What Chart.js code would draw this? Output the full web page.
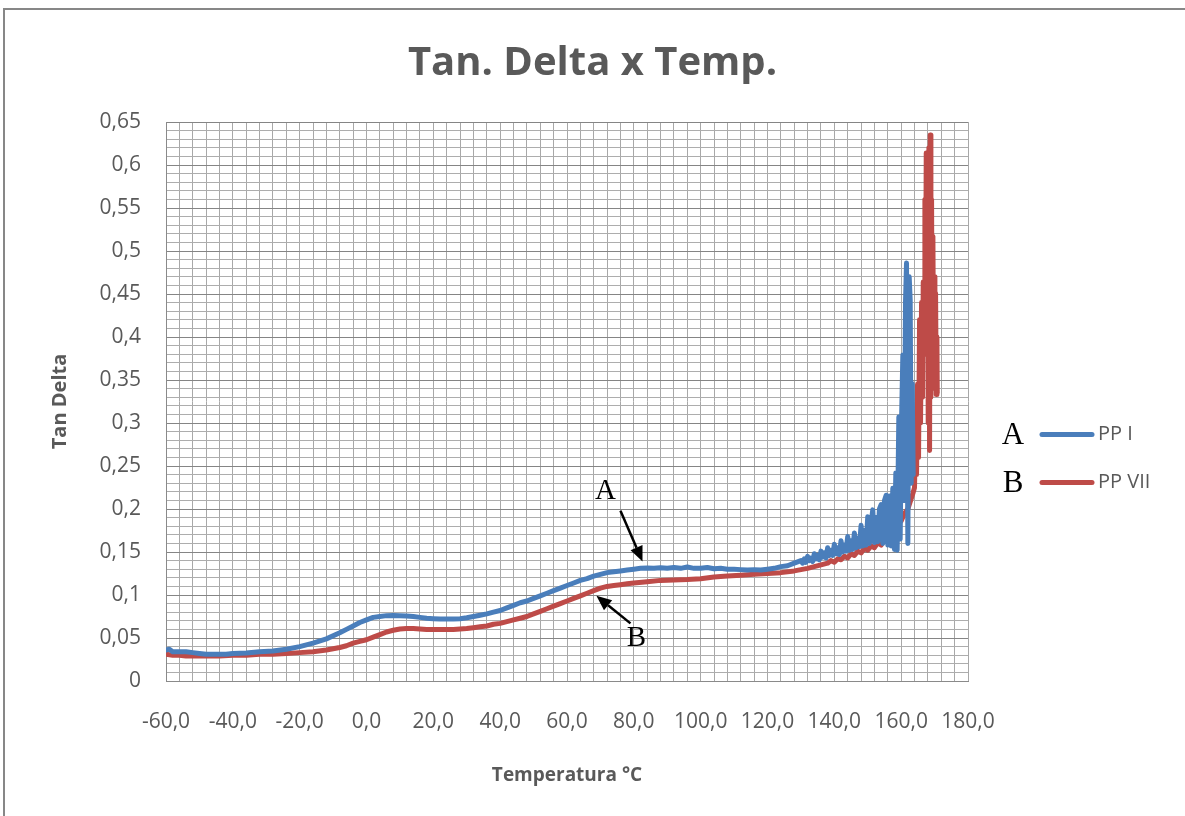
<!DOCTYPE html>
<html>
<head>
<meta charset="utf-8">
<script src="https://cdn.jsdelivr.net/npm/chart.js@4.4.1/dist/chart.umd.min.js"></script>
<style>
  html, body { margin: 0; padding: 0; background: #ffffff; overflow: hidden; }
  #frame { position: absolute; left: 3px; top: 8px; width: 1300px; height: 900px;
           border-left: 2px solid #878787; border-top: 2px solid #878787; }
  #c { position: absolute; left: 0; top: 0; }
</style>
</head>
<body>
<div id="frame"></div>
<canvas id="c" width="1185" height="816"></canvas>
<script>
// ---- Series: PP I (curve A) ----
const tempPPI = [
  -60, -59, -58, -56, -54, -52, -50, -48, -46, -44, -42, -40, -36, -32, -28, -24, -20, -16, -12, -8,
  -6, -4, -2, 0, 2, 4, 6, 8, 10, 12, 14, 16, 18, 20, 22, 24, 26, 28, 30, 32,
  34, 36, 38, 40, 42, 44, 46, 48, 50, 52, 54, 56, 58, 60, 62, 64, 66, 68, 70, 72,
  74, 76, 78, 80, 82, 84, 86, 88, 90, 92, 94, 96, 98, 100, 102, 104, 106, 108, 110, 112,
  114, 116, 118, 120, 122, 124, 126, 128,
  130, 130.5, 131, 131.5, 132, 132.5, 133, 133.5, 134, 134.5, 135, 135.5, 136, 136.5, 137, 137.5,
  138, 138.5, 139, 139.5, 140, 140.5, 141, 141.5, 142, 142.5, 143, 143.5, 144, 144.5, 145, 145.5,
  146, 146.5, 147, 147.5, 148, 148.5, 149, 149.5, 150, 150.5, 151, 151.5, 152, 152.5, 153, 153.5,
  154, 154.5, 155, 155.5, 156, 156.5, 157, 157.5, 158,
  158.4, 158.8, 159.3, 159.7, 160.1, 160.5, 160.9, 161.3, 161.6, 162, 162.4, 162.7, 163, 163.3, 163.6
];
const tanPPI = [
  0.036, 0.037, 0.034, 0.034, 0.034, 0.033, 0.032, 0.031, 0.031, 0.031, 0.031, 0.032, 0.0325, 0.034, 0.035, 0.037, 0.040, 0.044, 0.049, 0.056,
  0.060, 0.064, 0.068, 0.071, 0.074, 0.075, 0.076, 0.0762, 0.076, 0.0755, 0.075, 0.074, 0.073, 0.0725, 0.072, 0.072, 0.072, 0.0725, 0.0735, 0.075,
  0.0765, 0.078, 0.080, 0.082, 0.085, 0.088, 0.091, 0.093, 0.096, 0.099, 0.102, 0.105, 0.108, 0.111, 0.114, 0.117, 0.119, 0.122, 0.124, 0.126,
  0.127, 0.128, 0.129, 0.130, 0.131, 0.1315, 0.131, 0.1318, 0.131, 0.132, 0.131, 0.1325, 0.131, 0.131, 0.132, 0.1305, 0.131, 0.130, 0.130, 0.1295,
  0.129, 0.1295, 0.129, 0.130, 0.131, 0.133, 0.134, 0.137,
  0.140, 0.137, 0.142, 0.138, 0.145, 0.140, 0.143, 0.139, 0.148, 0.142, 0.146, 0.141, 0.151, 0.144, 0.149, 0.143,
  0.155, 0.146, 0.152, 0.146, 0.159, 0.148, 0.155, 0.147, 0.163, 0.150, 0.158, 0.151, 0.168, 0.152, 0.163, 0.153,
  0.172, 0.155, 0.166, 0.156, 0.181, 0.157, 0.175, 0.158, 0.191, 0.160, 0.183, 0.199, 0.161, 0.190, 0.162, 0.200,
  0.205, 0.160, 0.210, 0.216, 0.158, 0.215, 0.157, 0.224, 0.153,
  0.242, 0.152, 0.307, 0.165, 0.300, 0.379, 0.210, 0.440, 0.486, 0.160, 0.470, 0.443, 0.230, 0.346, 0.240
];

// ---- Series: PP VII (curve B) ----
const tempPPVII = [
  -60, -58, -56, -54, -52, -50, -48, -46, -44, -40, -36, -32, -28, -24, -20, -16, -12, -8, -6, -4,
  -2, 0, 2, 4, 6, 8, 10, 12, 14, 16, 18, 20, 22, 24, 26, 28, 30, 32, 34, 36,
  38, 40, 42, 44, 46, 48, 50, 52, 54, 56, 58, 60, 62, 64, 66, 68, 70, 72, 74, 76,
  78, 80, 84, 88, 92, 96, 100, 104, 108, 112, 116, 120, 124, 128, 132, 136, 138, 139, 140, 141,
  142, 143, 144, 145, 146, 147, 148, 149, 150, 151, 152, 153, 154, 155, 156, 157, 158, 159, 160, 161,
  162, 163, 163.5, 164, 164.3, 164.6, 164.9, 165.2, 165.5, 165.8, 166.1, 166.4, 166.6, 166.9, 167.1, 167.3, 167.5, 167.7, 167.9, 168.1,
  168.3, 168.5, 168.7, 168.9, 169.1, 169.3, 169.5, 169.7, 169.9, 170.1, 170.3, 170.5, 170.7, 170.8
];
const tanPPVII = [
  0.031, 0.030, 0.030, 0.029, 0.029, 0.029, 0.029, 0.029, 0.029, 0.030, 0.030, 0.031, 0.031, 0.032, 0.033, 0.034, 0.036, 0.039, 0.041, 0.044,
  0.046, 0.048, 0.051, 0.054, 0.057, 0.059, 0.0605, 0.061, 0.061, 0.0605, 0.060, 0.060, 0.060, 0.060, 0.060, 0.0605, 0.061, 0.062, 0.063, 0.064,
  0.066, 0.067, 0.069, 0.071, 0.073, 0.075, 0.078, 0.081, 0.084, 0.087, 0.090, 0.093, 0.096, 0.099, 0.102, 0.105, 0.108, 0.110, 0.111, 0.112,
  0.113, 0.114, 0.1155, 0.117, 0.1175, 0.118, 0.119, 0.121, 0.122, 0.123, 0.124, 0.125, 0.126, 0.128, 0.131, 0.135, 0.137, 0.140, 0.138, 0.142,
  0.141, 0.145, 0.143, 0.148, 0.146, 0.151, 0.149, 0.154, 0.152, 0.157, 0.155, 0.161, 0.158, 0.166, 0.164, 0.172, 0.176, 0.183, 0.186, 0.195,
  0.200, 0.212, 0.218, 0.225, 0.300, 0.240, 0.345, 0.260, 0.420, 0.300, 0.440, 0.330, 0.464, 0.380, 0.560, 0.420, 0.614, 0.450, 0.600, 0.300,
  0.620, 0.268, 0.635, 0.330, 0.560, 0.350, 0.517, 0.360, 0.470, 0.340, 0.451, 0.333, 0.400, 0.335
];

const seriesNames = ['PP I', 'PP VII'];
const seriesTags = ['A', 'B'];
const seriesColors = ['#4a7ebb', '#be4b48'];

// ---- Axes ----
const xMin = -60, xMax = 180, xStep = 4, xLabelEvery = 20;
const yMin = 0, yMax = 0.65, yStep = 0.01, yLabelEvery = 0.05;

// ---- Callout arrows (data coordinates) ----
const callouts = [
  { tag: 'A', text: [71.5, 0.221], tail: [76.0, 0.198], head: [82.6, 0.139] },
  { tag: 'B', text: [80.8, 0.050], tail: [79.0, 0.067], head: [68.8, 0.099] }
];

const FONT = '"Open Sans", "Noto Sans", sans-serif';
const SERIF = '"Liberation Serif", "DejaVu Serif", serif';

function pairs(xs, ys) { return xs.map((x, i) => ({ x: x, y: ys[i] })); }

const isYMajor = v => Math.round(v * 100) % Math.round(yLabelEvery * 100) === 0;
const isXMajor = v => Math.round(v) % xLabelEvery === 0;

const calloutPlugin = {
  id: 'callouts',
  afterDatasetsDraw(chart) {
    const { ctx, scales: { x, y } } = chart;
    ctx.save();
    ctx.strokeStyle = '#000';
    ctx.fillStyle = '#000';
    ctx.lineWidth = 2.5;
    callouts.forEach(c => {
      const tx = x.getPixelForValue(c.tail[0]), ty = y.getPixelForValue(c.tail[1]);
      const hx = x.getPixelForValue(c.head[0]), hy = y.getPixelForValue(c.head[1]);
      const ang = Math.atan2(hy - ty, hx - tx);
      const headLen = 15, headW = 6.5;
      const bx = hx - headLen * Math.cos(ang), by = hy - headLen * Math.sin(ang);
      ctx.beginPath();
      ctx.moveTo(tx, ty);
      ctx.lineTo(bx, by);
      ctx.stroke();
      ctx.beginPath();
      ctx.moveTo(hx, hy);
      ctx.lineTo(bx + headW * Math.sin(ang), by - headW * Math.cos(ang));
      ctx.lineTo(bx - headW * Math.sin(ang), by + headW * Math.cos(ang));
      ctx.closePath();
      ctx.fill();
      ctx.font = '29px ' + SERIF;
      ctx.textAlign = 'center';
      ctx.textBaseline = 'middle';
      ctx.fillText(c.tag, x.getPixelForValue(c.text[0]), y.getPixelForValue(c.text[1]));
    });
    ctx.restore();
  }
};

const sideLegendPlugin = {
  id: 'sideLegend',
  afterDraw(chart) {
    const { ctx, chartArea } = chart;
    const mid = (chartArea.top + chartArea.bottom) / 2;
    ctx.save();
    chart.data.datasets.forEach((ds, i) => {
      const yy = mid + 33 + i * 48;
      const x0 = chartArea.right;
      ctx.fillStyle = '#000';
      ctx.font = '31px ' + SERIF;
      ctx.textAlign = 'center';
      ctx.textBaseline = 'middle';
      ctx.fillText(seriesTags[i], x0 + 45, yy + 1);
      ctx.strokeStyle = ds.borderColor;
      ctx.lineWidth = 5;
      ctx.lineCap = 'round';
      ctx.beginPath();
      ctx.moveTo(x0 + 74, yy);
      ctx.lineTo(x0 + 124, yy);
      ctx.stroke();
      ctx.fillStyle = '#595959';
      ctx.font = '20px ' + FONT;
      ctx.textAlign = 'left';
      ctx.fillText(ds.label, x0 + 130, yy);
    });
    ctx.restore();
  }
};

new Chart(document.getElementById('c'), {
  type: 'line',
  data: {
    datasets: [
      { label: seriesNames[0], data: pairs(tempPPI, tanPPI), borderColor: seriesColors[0], backgroundColor: seriesColors[0], xAxisID: 'x', yAxisID: 'y' },
      { label: seriesNames[1], data: pairs(tempPPVII, tanPPVII), borderColor: seriesColors[1], backgroundColor: seriesColors[1], xAxisID: 'x', yAxisID: 'y' }
    ]
  },
  options: {
    responsive: false,
    animation: false,
    events: [],
    layout: { padding: 0 },
    elements: {
      point: { radius: 0 },
      line: { borderWidth: 5, tension: 0, borderJoinStyle: 'round', borderCapStyle: 'round' }
    },
    plugins: {
      legend: { display: false },
      tooltip: { enabled: false },
      title: {
        display: true,
        text: 'Tan. Delta x Temp.',
        color: '#595959',
        font: { family: FONT, size: 40, weight: 'bold', lineHeight: 1.2 },
        padding: { top: 40, bottom: 34 }
      }
    },
    scales: {
      x: {
        type: 'linear',
        min: xMin, max: xMax,
        afterFit: s => { s.height = 135; },
        border: { display: true, color: '#8a8a8a', width: 1 },
        grid: { drawTicks: false, color: '#a8a8a8', lineWidth: 1 },
        ticks: {
          stepSize: xStep, autoSkip: false, maxRotation: 0, minRotation: 0, maxTicksLimit: 1000,
          padding: 28, color: '#595959', font: { family: FONT, size: 21 },
          callback: v => isXMajor(v) ? v.toFixed(1).replace('.', ',') : ''
        },
        title: {
          display: true, text: 'Temperatura °C', color: '#595959',
          font: { family: FONT, size: 19, weight: 'bold', lineHeight: 1.2 },
          padding: { top: 0, bottom: 29 }
        }
      },
      y: {
        type: 'linear',
        position: 'left',
        min: yMin, max: yMax,
        afterFit: s => { s.width = 166; },
        border: { display: true, color: '#8a8a8a', width: 1 },
        grid: {
          drawTicks: false, lineWidth: 1,
          color: c => isYMajor(c.tick.value) ? '#858585' : '#adadad'
        },
        ticks: {
          stepSize: yStep, autoSkip: false, maxTicksLimit: 1000,
          padding: 25, color: '#595959', font: { family: FONT, size: 21 },
          callback: v => isYMajor(v) ? String(Math.round(v * 100) / 100).replace('.', ',') : ''
        },
        title: {
          display: true, text: 'Tan Delta', color: '#595959',
          font: { family: FONT, size: 20, weight: 'bold', lineHeight: 1.2 },
          padding: { top: 48, bottom: 0 }
        }
      },
      // empty column on the right that holds the series key
      keySpace: {
        type: 'linear',
        position: 'right',
        display: true,
        afterFit: s => { s.width = 217; },
        grid: { display: false },
        border: { display: false },
        ticks: { display: false }
      }
    }
  },
  plugins: [calloutPlugin, sideLegendPlugin]
});
</script>
</body>
</html>
